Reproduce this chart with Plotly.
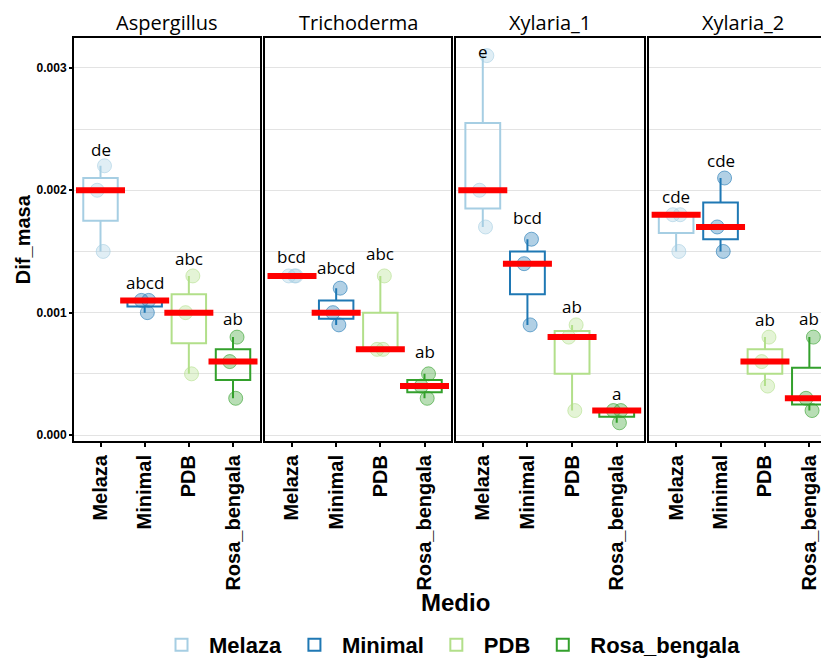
import numpy as np
import plotly.graph_objects as go

# ---------------- data ----------------
fungi = ["Aspergillus", "Trichoderma", "Xylaria_1", "Xylaria_2"]
medios = ["Melaza", "Minimal", "PDB", "Rosa_bengala"]
colors = ["#A6CEE3", "#1F78B4", "#B2DF8A", "#33A02C"]

aspergillus = [[0.0022, 0.0020, 0.0015],
               [0.0011, 0.0011, 0.0010],
               [0.0013, 0.0010, 0.0005],
               [0.0008, 0.0006, 0.0003]]
trichoderma = [[0.0013, 0.0013, 0.0013],
               [0.0012, 0.0010, 0.0009],
               [0.0013, 0.0007, 0.0007],
               [0.0005, 0.0004, 0.0003]]
xylaria_1 = [[0.0031, 0.0020, 0.0017],
             [0.0016, 0.0014, 0.0009],
             [0.0009, 0.0008, 0.0002],
             [0.0002, 0.0002, 0.0001]]
xylaria_2 = [[0.0018, 0.0018, 0.0015],
             [0.0021, 0.0017, 0.0015],
             [0.0008, 0.0006, 0.0004],
             [0.0008, 0.0003, 0.0002]]

aspergillus_letters = ["de", "abcd", "abc", "ab"]
trichoderma_letters = ["bcd", "abcd", "abc", "ab"]
xylaria_1_letters = ["e", "bcd", "ab", "a"]
xylaria_2_letters = ["cde", "cde", "ab", "ab"]

aspergillus_letter_y = [0.00233, 0.00125, 0.00144, 0.00095]
trichoderma_letter_y = [0.00146, 0.00137, 0.00148, 0.00068]
xylaria_1_letter_y = [0.00313, 0.00178, 0.00105, 0.00034]
xylaria_2_letter_y = [0.00195, 0.00224, 0.00094, 0.00095]

y_tickvals = [0.0, 0.001, 0.002, 0.003]
y_ticktext = ["0.000", "0.001", "0.002", "0.003"]
y_minor = [0.0005, 0.0015, 0.0025]

panel_values = [aspergillus, trichoderma, xylaria_1, xylaria_2]
panel_letters = [aspergillus_letters, trichoderma_letters, xylaria_1_letters, xylaria_2_letters]
panel_letter_y = [aspergillus_letter_y, trichoderma_letter_y, xylaria_1_letter_y, xylaria_2_letter_y]

# ---------------- layout geometry ----------------
# The page body has an 8px margin, so the figure origin sits at screen (8, 8).
OFF = 8
W, H = 837, 665
S_LEFT, S_RIGHT, S_TOP, S_BOTTOM = 74, 838, 38, 443   # plot area in screen pixels
ML = S_LEFT - OFF
MT = S_TOP - OFF
MR = W - (S_RIGHT - OFF)
MB = H - (S_BOTTOM - OFF)
PW = W - ML - MR
PH = H - MT - MB
panels_px = [(74, 260), (266, 452), (457, 645), (651, 838)]


def px2fx(x):
    return (x - OFF - ML) / PW


def py2fy(y):
    return (H - MB - (y - OFF)) / PH


def rgba(hexc, a):
    h = hexc.lstrip("#")
    r, g, b = int(h[0:2], 16), int(h[2:4], 16), int(h[4:6], 16)
    return f"rgba({r},{g},{b},{a})"


fig = go.Figure()

for p, fungus in enumerate(fungi):
    xa = "x" if p == 0 else f"x{p + 1}"
    ya = "y" if p == 0 else f"y{p + 1}"
    vals = panel_values[p]
    for m, medio in enumerate(medios):
        fig.add_trace(go.Box(
            x=[medio] * len(vals[m]),
            y=vals[m],
            name=medio,
            legendgroup=medio,
            showlegend=(p == 0),
            xaxis=xa, yaxis=ya,
            boxpoints="all", jitter=0.3, pointpos=0,
            quartilemethod="inclusive",
            width=0.78,
            whiskerwidth=0,
            line=dict(color=colors[m], width=2),
            fillcolor="rgba(255,255,255,0)",
            marker=dict(color=rgba(colors[m], 0.35), size=14,
                        line=dict(color=rgba(colors[m], 0.6), width=1)),
            hoverinfo="y",
        ))
    medians = [float(np.median(v)) for v in vals]
    fig.add_trace(go.Scatter(
        x=medios, y=medians, mode="markers", showlegend=False,
        xaxis=xa, yaxis=ya,
        marker=dict(symbol="line-ew", size=35, color="red",
                    line=dict(color="red", width=6)),
        hoverinfo="skip",
    ))
    for m, medio in enumerate(medios):
        fig.add_annotation(
            x=medio, y=panel_letter_y[p][m], xref=xa, yref=ya,
            text=panel_letters[p][m], showarrow=False,
            font=dict(family="Open Sans", size=17, color="black"),
            xanchor="center", yanchor="middle",
        )
    # strip title
    x0, x1 = panels_px[p]
    fig.add_annotation(
        x=px2fx((x0 + x1) / 2), y=py2fy(22), xref="paper", yref="paper",
        text=fungus, showarrow=False,
        font=dict(family="Open Sans", size=20, color="black"),
        xanchor="center", yanchor="middle",
    )

layout = dict(
    width=W, height=H, autosize=False,
    margin=dict(l=ML, r=MR, t=MT, b=MB, pad=0),
    paper_bgcolor="white", plot_bgcolor="white",
    boxmode="overlay",
    showlegend=True,
    legend=dict(orientation="h", x=px2fx(451), xanchor="center",
                y=py2fy(648), yanchor="middle", itemwidth=45,
                font=dict(family="Liberation Sans", size=22, color="black", weight="bold"),
                bgcolor="rgba(0,0,0,0)"),
)

yr = [-0.0000488, 0.003244]
for p in range(4):
    x0, x1 = panels_px[p]
    xk = "xaxis" if p == 0 else f"xaxis{p + 1}"
    yk = "yaxis" if p == 0 else f"yaxis{p + 1}"
    layout[xk] = dict(
        domain=[px2fx(x0), px2fx(x1)],
        anchor="y" if p == 0 else f"y{p + 1}",
        type="category", categoryorder="array", categoryarray=medios,
        range=[-0.6, 3.6],
        tickmode="array", tickvals=medios, ticktext=medios,
        tickangle=-90, ticks="outside", ticklen=4, tickwidth=2, tickcolor="black",
        tickfont=dict(family="Liberation Sans", size=20, color="black", weight="bold"),
        showline=True, linecolor="black", linewidth=2, mirror=True,
        showgrid=False, zeroline=False,
    )
    layout[yk] = dict(
        domain=[0, 1],
        anchor="x" if p == 0 else f"x{p + 1}",
        range=yr,
        tickmode="array", tickvals=y_tickvals, ticktext=y_ticktext,
        showticklabels=(p == 0),
        ticks="outside" if p == 0 else "", ticklen=3, tickwidth=2, tickcolor="black",
        tickfont=dict(family="Liberation Sans", size=12, color="black", weight="bold"),
        showline=True, linecolor="black", linewidth=2, mirror=True,
        showgrid=True, gridcolor="#E3E3E3", gridwidth=1, zeroline=False,
        minor=dict(tickvals=y_minor, showgrid=True, gridcolor="#E3E3E3", gridwidth=1, ticks=""),
    )
    if p > 0:
        layout[yk]["matches"] = "y"

fig.update_layout(**layout)

# axis titles
fig.add_annotation(x=px2fx(456), y=py2fy(605), xref="paper", yref="paper",
                   text="Medio", showarrow=False,
                   font=dict(family="Liberation Sans", size=24, color="black", weight="bold"),
                   xanchor="center", yanchor="middle")
fig.add_annotation(x=px2fx(23), y=py2fy(240), xref="paper", yref="paper",
                   text="Dif_masa", showarrow=False, textangle=-90,
                   font=dict(family="Liberation Sans", size=20, color="black", weight="bold"),
                   xanchor="center", yanchor="middle")

fig.write_html("out.html")
